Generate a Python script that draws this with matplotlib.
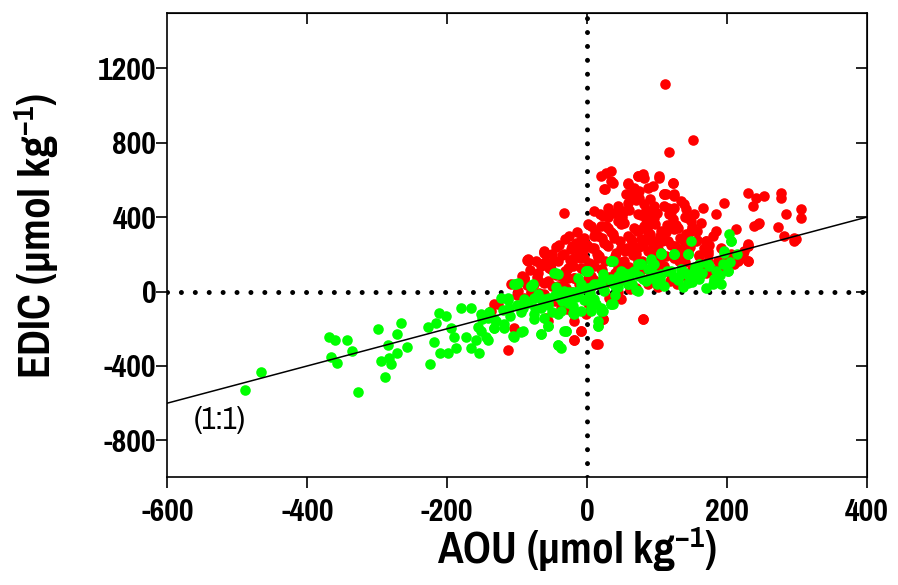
import matplotlib
matplotlib.use('Agg')
import matplotlib.pyplot as plt
from matplotlib import font_manager

# pick a narrow Arial-like face if one is installed
cands = ['Liberation Sans Narrow', 'Arial Narrow', 'Pragati Narrow', 'Archivo Narrow', 'Liberation Sans']
avail = {f.name for f in font_manager.fontManager.ttflist}
fam = next((c for c in cands if c in avail), 'DejaVu Sans')

plt.rcParams['font.family'] = [fam, 'DejaVu Sans']
plt.rcParams['font.weight'] = 'bold'
plt.rcParams['axes.unicode_minus'] = False
plt.rcParams['mathtext.fontset'] = 'custom'
plt.rcParams['mathtext.rm'] = fam + ':bold'
plt.rcParams['mathtext.default'] = 'rm'

# AOU / EDIC pairs (umol/kg)
red_aou = [112, 152, 117, -33, 20, 34, 34, 26, 73, 80, 59, 56, 67, 87, 103, 123, 110, 124, 134, 142,
           153, 166, 185, 196, 163, 185, 230, 242, 253, 237, 278, 278, 306, 306, 285, 296, 245, 273, 230, 223,
           230, 210, 213, 170, 173, -84, -62, -66, -90,
           27, 24, 37, 59, 73, 82, 103, 123, 94, 59, 74, 110, 124, 59, 82, 96, 116, 10, 23, 39,
           53, 73, 96, 123, 6, 30, 49, 67, 87, 106, 124, -4, 16, 39, 59, 77, 96, 116, -9, 10,
           30, 49, 67, 87, 106, -23, -33, -19, -4, 16, 34, 53, 73, -41, -62, -84, -66, -52, -27, -9,
           10, -37, -56, -76, -90, -19, 1, -70, -41, -127,
           -84, -66, -90, -133, -137, -113, -90, -62, -56, -19, -9, 16, 23, -20, 80, -27, -104,
           -19, -9, -19, 13, 23, 80, 49, 99, 216, 230, 296,
           -86, -62, -59, -1, -37,
           113, 139, 124, 149, 156, 170, 149, 246, 239, 282, 299, 230, 220, 206, 192, 225, 173, 187, 173, 202,
           163, 230, 144, 139, 130, 144,
           5, 15, 25, 35, 45, 55, 65, 75, 85, 95, 105, 115, 125, 135, 145, 0, 10, 20, 30, 40,
           50, 60, 70, 80, 90, 100, 110, 120, 130, 140, -10, -20, -30, -5, -15, 60, 45, 85, 100, 70,
           20, 40, 80, 100, 150, 160, 175, 180, 120, 140, 90, 110, 75, 65, 50, 30, -25, -40, -50, -60,
           -70, -50, -30, -10, 10, 30, 50, 60, 90, 120, 130, -80, -100, -45, -25, 45, 70, 150, 170, 190,
           210, 200,
           18, 52, 77, 93, 117, 2, 27, 53, 82, 98, 128, 151, -14, 12, 38, 71, 88, 113, 142, 158,
           -31, -8, 22, 47, 63, 87, 108, 133, 157, -44, -22, 7, 28, 57, 74, 102, 126, 147, 168,
           -58, -36, -12, 17, 41, 66, 91, 113, 138, 161, -73, -52, -24, 3, 26, 52, 79, 104, 131,
           -82, -54, -31, -6, 21, 44, 72, 96, -93, -71, -44, -19, 6, 31, 57, -108, -86, -61, -34, -11, 14,
           -98, -68, -42, -21, -61, -29, 2, 31, 61, 88, 119, 141, 162, 181, 199, 101, 129]
red_edic = [1118, 817, 753, 425, 624, 651, 597, 554, 624, 634, 581, 527, 559, 559, 613, 586, 527, 516, 489, 446,
            419, 452, 419, 478, 371, 328, 532, 505, 516, 462, 532, 505, 446, 398, 419, 290, 366, 349, 258, 204,
            167, 183, 339, 274, 204, 172, 215, 150, 75,
            640, 554, 586, 586, 624, 613, 624, 586, 570, 527, 505, 527, 527, 478, 473, 462, 452, 435, 409, 425,
            435, 419, 398, 392, 355, 344, 366, 344, 355, 328, 339, 290, 301, 290, 301, 285, 274, 274, 237, 237,
            247, 237, 231, 220, 210, 231, 204, 183, 183, 183, 167, 167, 167, 167, 220, 177, 140, 124, 129, 129,
            140, 86, 59, 43, 70, 75, 75, 102, 32, -65,
            167, 150, 75, -65, -102, -317, -32, -11, -156, -263, -210, -280, -145, -113, -145, 75, -194,
            -156, -210, -263, -280, -145, -145, -38, 48, 167, 247, 274,
            172, 210, -140, -118, -86,
            527, 473, 452, 382, 274, 274, 328, 371, 355, 301, 285, 247, 183, 204, 237, 220, 220, 167, 167, 150,
            129, 167, 220, 274, 344, 398,
            150, 200, 260, 320, 380, 220, 270, 330, 390, 240, 300, 360, 180, 230, 290, 250, 300, 350, 400, 190,
            160, 130, 200, 250, 310, 180, 140, 250, 200, 160, 180, 140, 110, 220, 260, 440, 460, 440, 420, 490,
            120, 100, 120, 100, 120, 190, 250, 300, 430, 400, 500, 460, 540, 520, 400, 450, 300, 250, 200, 160,
            60, 30, 20, 40, 60, 50, 70, 40, 80, 90, 60, 0, -20, -50, -30, 0, 20, 80, 100, 130,
            150, 170,
            415, 428, 412, 430, 418, 362, 355, 368, 352, 365, 358, 347, 318, 326, 312, 325, 316, 323, 311, 328,
            282, 276, 288, 273, 285, 279, 271, 286, 277, 238, 245, 233, 248, 236, 242, 231, 247, 239, 236,
            203, 196, 208, 193, 205, 198, 207, 192, 204, 196, 162, 155, 168, 153, 165, 158, 162, 151, 166,
            118, 126, 112, 124, 117, 128, 115, 123, 82, 76, 88, 73, 85, 79, 84, 42, 36, 45, 33, 41, 38,
            2, -6, 8, -3, -58, -92, -61, -33, 12, 38, 57, 82, 101, 118, 139, 22, 41]

green_aou = [-489, -466, -369, -360, -343, -336, -366, -358, -328, -299, -285, -266, -271, -257, -271, -295, -280, -289, -283,
             -228, -216, -225, -212, -202, -219, -210, -199, -195, -190, -187, -180, -166, -173, -166, -154, -152, -156, -144,
             -159, -133, -133, -119, -113, -111, -106, -102, -94, -92, -80, -76, -76, -66, -66, -56, -54, -47, -44, -42,
             -37, -30, -27, -13, -19, -1, 1, 6, 10, 16, 20, 23, 34, 34, 39, 44,
             -41, 1, 37, 73, 106, 124, -104, -80, -113, -123, -142, -133, -119, -104, -92, -90, -70, -56, -76, -62,
             -41, -33, -66, -56, -41, -27, -13, 6, 20, 34, 49, 63, 87, 96, -9, 6, 16, 34, 20, 59, -9, -152, -142,
             -33, -27, -20, -30, -37, 16, 6, 23, 13, 37, -4, -1, 23, 34, 49, 53, 73, 77, 92, 106, 124, 144,
             92, 106, 130, 137, 153, 153, 163, 144, 173, 182, 192, 202, 196, 206, 59, 39, 24, -13, -11,
             203, 206, 196, 149, 144, 124, 106, 34, 1, -44, -99, -77, 202, 182, 77, 92, 67, 53, 134, 159,
             -60, -20, 40, 80, 120, 160, 100, 140, 60, 0, -40, 110, 150, 170, 180,
             -150, -140, -130, -120, -110, -100, -95, -85, -75, -65, -55, -45, -35, -25, -15, -5, 5, 15, 25,
             35, 45, 55, 65, 75, 85, 95, 105, 115, 125, 135, 145, 155, 165, 175, 185, 195, 205, 215,
             -50, -20, 10, 40, 70, 100, 130, 160, 190]
green_edic = [-532, -435, -242, -263, -263, -322, -354, -382, -538, -204, -290, -167, -226, -296, -333, -371, -387, -457, -355,
              -188, -167, -392, -113, -129, -269, -328, -328, -194, -242, -301, -86, -86, -247, -301, -333, -118, -188, -247,
              -263, -194, -145, -172, -32, -91, -237, 43, -220, -86, 32, -32, -145, -226, -91, -183, -32, 102, 22, -290,
              -102, -210, -48, 5, -118, 113, -32, -86, 43, -183, -102, 75, 167, -65, 43, 86,
              97, 113, 167, 150, 204, 204, 43, 32, -48, -32, -140, -194, -194, -247, -210, -38, -11, -65, -118, -140,
              -118, -210, -226, -183, -290, -32, -11, 22, 43, 70, 86, 102, 124, 150, -102, -65, -156, -65, -91, 43, 43, -210, -263,
              5, -59, -113, -210, -301, -183, -102, -102, -65, -65, -48, 113, 97, 167, 113, 75, 5, 150, 177, 204, 204, 204,
              75, 97, 75, 22, 75, 113, 97, 48, 150, 70, 43, 113, 220, 274, 43, 43, 5, 75, 5,
              312, 274, 210, 274, 204, 204, 210, 167, 113, 102, 48, 43, 113, 59, 150, 167, 113, 102, 97, 97,
              -40, 0, 30, 70, 110, 150, 60, 100, 60, 20, -30, 30, 50, 20, 40,
              -150, -110, -160, -100, -130, -70, -110, -60, -90, -40, -70, -20, -50, 0, -30, 20, -10, 40, 10,
              55, 25, 70, 40, 85, 55, 100, 65, 110, 80, 120, 90, 130, 100, 140, 110, 150, 160, 200,
              -110, -80, -40, -20, 10, 40, 60, 70, 90]

one_to_one = [-600, 400]
x_ticks = [-600, -400, -200, 0, 200, 400]
y_ticks = [-800, -400, 0, 400, 800, 1200]

fig = plt.figure(figsize=(8.98, 5.85), dpi=100)
ax = fig.add_axes([0.1865, 0.1838, 0.7785, 0.7945])

ax.axhline(0, color='black', lw=3.6, ls=(0, (0.001, 2.78)), dash_capstyle='round', zorder=1)
ax.axvline(0, color='black', lw=3.6, ls=(0, (0.001, 2.78)), dash_capstyle='round', zorder=1)

ax.scatter(red_aou, red_edic, s=58, color='#ff0000', linewidths=0, zorder=2)
ax.scatter(green_aou, green_edic, s=58, color='#00ff00', linewidths=0, zorder=3)
ax.plot(one_to_one, one_to_one, color='black', lw=1.1, zorder=4)
ax.text(-525, -690, '(1:1)', fontsize=24, fontweight='normal', ha='center', va='center')

ax.set_xlim(-600, 400)
ax.set_ylim(-1000, 1500)
ax.set_xticks(x_ticks)
ax.set_yticks(y_ticks)
ax.tick_params(direction='out', length=8, width=1.2, labelsize=25)
ax.tick_params(axis='x', pad=7)
ax.tick_params(axis='y', pad=0)
for s in ax.spines.values():
    s.set_linewidth(1.2)

top = ax.secondary_xaxis('top')
top.set_xticks([-400, -200, 0, 200])
top.tick_params(direction='in', length=8, width=1.2, labeltop=False)
right = ax.secondary_yaxis('right')
right.set_yticks(y_ticks)
right.tick_params(direction='in', length=8, width=1.2, labelright=False)

ax.set_xlabel('AOU (\u00b5mol kg$^{-1}$)', fontsize=34, fontweight='bold')
ax.set_ylabel('EDIC (\u00b5mol kg$^{-1}$)', fontsize=34, fontweight='bold')
ax.xaxis.set_label_coords(0.585, -0.1)
ax.yaxis.set_label_coords(-0.152, 0.52)

fig.savefig('out.png', dpi=100)
